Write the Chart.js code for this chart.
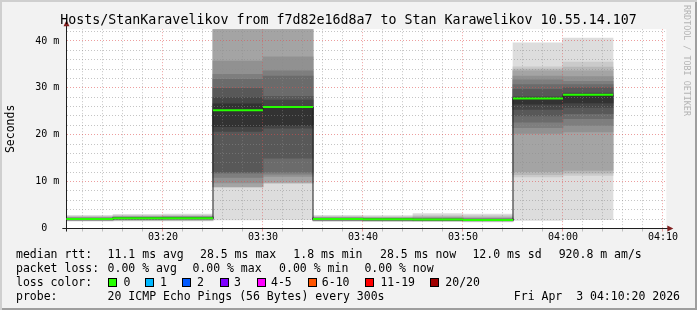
<!DOCTYPE html>
<html>
<head>
<meta charset="utf-8">
<title>smokeping</title>
<script src="https://cdn.jsdelivr.net/npm/chart.js@4.4.1/dist/chart.umd.min.js"></script>
<style>
  html, body { margin: 0; padding: 0; background: #f2f2f2; }
  #frame {
    position: relative; width: 697px; height: 310px; overflow: hidden;
    background: #f2f2f2;
    box-shadow: inset 2px 2px 0 #cfcfcf, inset -2px -2px 0 #9e9e9e;
    font-family: 'DejaVu Sans Mono', monospace; color: #000;
  }
  #frame canvas { position: absolute; left: 0; top: 0; }
  .txt { position: absolute; white-space: pre; font-size: 11.5px; line-height: 14px; }
  #title { position: absolute; left: 0; top: 12px; width: 697px; text-align: center; font-size: 13.3px; line-height: 16px; white-space: pre; }
  #brand { position: absolute; left: 682px; top: 5px; writing-mode: vertical-rl; font-size: 8.4px; line-height: 9px; color: #b4b4b4; white-space: pre; }
  .sw { position: absolute; top: 278px; width: 7px; height: 7px; border: 1px solid #000; }
</style>
</head>
<body>
<div id="frame">
  <canvas id="smoke" width="697" height="310"></canvas>
  <canvas id="median" width="697" height="310"></canvas>
  <div id="title">Hosts/StanKaravelikov from f7d82e16d8a7 to Stan Karawelikov 10.55.14.107</div>
  <div id="brand">RRDTOOL / TOBI OETIKER</div>

  <div class="txt" style="left:16px;top:247px">median rtt:</div>
  <div class="txt" style="left:107.6px;top:247px">11.1 ms avg</div>
  <div class="txt" style="left:200px;top:247px">28.5 ms max</div>
  <div class="txt" style="left:293.3px;top:247px">1.8 ms min</div>
  <div class="txt" style="left:380px;top:247px">28.5 ms now</div>
  <div class="txt" style="left:472.4px;top:247px">12.0 ms sd</div>
  <div class="txt" style="left:558.7px;top:247px">920.8 m am/s</div>

  <div class="txt" style="left:16px;top:261px">packet loss:</div>
  <div class="txt" style="left:107.6px;top:261px">0.00 % avg</div>
  <div class="txt" style="left:192.4px;top:261px">0.00 % max</div>
  <div class="txt" style="left:279.1px;top:261px">0.00 % min</div>
  <div class="txt" style="left:364.4px;top:261px">0.00 % now</div>

  <div class="txt" style="left:16px;top:275px">loss color:</div>
  <div class="sw" style="left:108px;background:#26ff00"></div>
  <div class="txt" style="left:123.6px;top:275px">0</div>
  <div class="sw" style="left:145px;background:#00b8ff"></div>
  <div class="txt" style="left:160px;top:275px">1</div>
  <div class="sw" style="left:182px;background:#0059ff"></div>
  <div class="txt" style="left:197px;top:275px">2</div>
  <div class="sw" style="left:220px;background:#7e00ff"></div>
  <div class="txt" style="left:234px;top:275px">3</div>
  <div class="sw" style="left:256.5px;background:#ff00ff"></div>
  <div class="txt" style="left:271px;top:275px">4-5</div>
  <div class="sw" style="left:307.5px;background:#ff5500"></div>
  <div class="txt" style="left:321.8px;top:275px">6-10</div>
  <div class="sw" style="left:365px;background:#ff0000"></div>
  <div class="txt" style="left:380.4px;top:275px">11-19</div>
  <div class="sw" style="left:430px;background:#a00000"></div>
  <div class="txt" style="left:445.3px;top:275px">20/20</div>

  <div class="txt" style="left:16px;top:289px">probe:</div>
  <div class="txt" style="left:107.6px;top:289px">20 ICMP Echo Pings (56 Bytes) every 300s</div>
  <div class="txt" style="right:17px;top:289px">Fri Apr  3 04:10:20 2026</div>
</div>

<script>
// end time of every 300 s step, the step is drawn over the 5 minutes before it
const stepEnds = ['03:15', '03:20', '03:25', '03:30', '03:35', '03:40', '03:45', '03:50', '03:55', '04:00', '04:05'];
const medianRtt = [2.0, 2.2, 2.2, 25.2, 25.9, 2.0, 1.95, 1.9, 1.8, 27.7, 28.5];

// the 20 ping times of each step, sorted (ms)
const pings0315 = [1.55, 1.65, 1.7, 1.75, 1.8, 1.85, 1.9, 1.95, 1.95, 2.0, 2.05, 2.05, 2.1, 2.15, 2.2, 2.3, 2.4, 2.5, 2.6, 2.8];
const pings0320 = [1.6, 1.7, 1.8, 1.85, 1.9, 1.95, 2.0, 2.05, 2.1, 2.15, 2.2, 2.25, 2.3, 2.35, 2.4, 2.5, 2.55, 2.65, 2.8, 3.0];
const pings0325 = [1.6, 1.7, 1.8, 1.85, 1.9, 2.0, 2.05, 2.1, 2.15, 2.2, 2.2, 2.25, 2.3, 2.4, 2.45, 2.5, 2.6, 2.7, 2.85, 3.1];
const pings0330 = [1.85, 8.8, 8.85, 8.9, 9.7, 10.9, 11.8, 12.0, 20.7, 21.7, 26.6, 27.9, 29.9, 31.8, 32.9, 35.7, 44, 45, 46, 47];
const pings0335 = [1.87, 9.6, 9.7, 9.8, 11.1, 11.6, 12.0, 15.0, 21.4, 22.0, 25.8, 27.4, 28.2, 32.5, 33.6, 36.6, 44, 45, 46, 47];
const pings0340 = [1.5, 1.6, 1.65, 1.7, 1.75, 1.8, 1.85, 1.9, 1.95, 2.0, 2.0, 2.05, 2.1, 2.15, 2.2, 2.25, 2.35, 2.45, 2.6, 2.8];
const pings0345 = [1.5, 1.55, 1.6, 1.65, 1.7, 1.75, 1.8, 1.85, 1.9, 1.95, 1.95, 2.0, 2.05, 2.1, 2.15, 2.2, 2.3, 2.4, 2.55, 2.75];
const pings0350 = [1.45, 1.55, 1.6, 1.65, 1.7, 1.75, 1.8, 1.85, 1.85, 1.9, 1.9, 1.95, 2.0, 2.05, 2.15, 2.25, 2.4, 2.6, 2.85, 3.2];
const pings0355 = [1.4, 1.5, 1.55, 1.6, 1.65, 1.7, 1.7, 1.75, 1.8, 1.8, 1.8, 1.85, 1.9, 1.95, 2.05, 2.15, 2.3, 2.5, 2.75, 3.1];
const pings0400 = [1.7, 11.0, 11.5, 12.1, 20.3, 21.5, 22.7, 24.0, 25.4, 26.5, 27.9, 28.1, 29.7, 30.7, 31.7, 32.5, 33.6, 34.0, 34.5, 39.6];
const pings0405 = [1.86, 11.3, 11.8, 12.4, 20.6, 22.0, 23.4, 24.5, 25.8, 26.8, 28.4, 28.9, 30.0, 30.7, 31.4, 32.4, 33.6, 34.4, 35.5, 40.6];

const viewStart = '03:10:20';
const viewEnd = '04:10:20';
const stepMin = 5;
const yMax = 42.5;

const W = 697, H = 310;
const plot = { left: 66.33, right: 666.33, top: 29.2, bottom: 228.5 };
const xAxisH = 20;
const minorGrid = 'rgba(140,140,140,0.5)';
const majorGrid = 'rgba(222,79,79,0.55)';
const axisColor = '#1f1f1f';
const arrowColor = '#801f1f';
const monoFont = 'DejaVu Sans Mono';

function toMin(t) {
    var p = t.split(':').map(Number);
    return (p[0] - 3) * 60 + p[1] + (p[2] || 0) / 60;
}
function hhmm(v) {
    var h = 3 + Math.floor(v / 60), m = Math.round(v % 60);
    return String(h).padStart(2, '0') + ':' + String(m).padStart(2, '0');
}
function gridValues(from, to, step) {
    var out = [];
    for (var v = from; v <= to + 1e-9; v += step) out.push({ value: v });
    return out;
}

const xMin = toMin(viewStart), xMax = toMin(viewEnd);
const pxPerMin = (plot.right - plot.left) / (xMax - xMin);

function makeScales(show) {
    var tickFont = { family: monoFont, size: 10 };
    var gridCol = function(c) { return c.tick && c.tick.value % 10 === 0 ? majorGrid : minorGrid; };
    return {
        x: {
            type: 'linear', position: 'bottom', min: xMin, max: xMax, offset: false,
            afterBuildTicks: function(s) { s.ticks = gridValues(Math.ceil(xMin / 2) * 2, xMax, 2); },
            afterFit: function(s) { s.height = xAxisH; },
            grid: { display: show, offset: false, z: 1, lineWidth: 1, color: gridCol,
                    drawTicks: true, tickLength: 3, tickColor: gridCol },
            border: { display: show, color: axisColor, z: 2, dash: [1, 2] },
            ticks: { display: show, autoSkip: false, maxRotation: 0, padding: 0, color: '#000', font: tickFont,
                     callback: function(v) { return v % 10 === 0 ? hhmm(v) : ''; } }
        },
        y: {
            type: 'linear', position: 'left', min: 0, max: yMax,
            afterBuildTicks: function(s) { s.ticks = gridValues(0, yMax, 2); },
            afterFit: function(s) { s.width = plot.left; },
            grid: { display: show, z: 1, lineWidth: 1, drawTicks: false, color: gridCol },
            border: { display: show, color: axisColor, z: 2, dash: [1, 2] },
            ticks: { display: show, autoSkip: false, padding: 7, color: '#000', font: tickFont,
                     callback: function(v) { return v === 0 ? '0  ' : (v % 10 === 0 ? v + ' m' : ''); } },
            title: { display: show, text: 'Seconds', color: '#000', font: { family: monoFont, size: 11.5 },
                     padding: { top: 4, bottom: 0 } }
        }
    };
}

const layoutPad = { left: 0, top: plot.top, right: W - plot.right, bottom: H - plot.bottom - xAxisH };

// smoke: band j spans ping j .. ping 19-j, darker towards the middle
const pingSets = [pings0315, pings0320, pings0325, pings0330, pings0335, pings0340,
                  pings0345, pings0350, pings0355, pings0400, pings0405];
const smokeSets = [];
for (let j = 0; j < 10; j++) {
    const g = Math.floor(190 / 10 * (10 - (j + 1))) + 50;
    smokeSets.push({
        type: 'bar',
        data: pingSets.map(function(p, k) {
            return { x: toMin(stepEnds[k]) - stepMin / 2, y: [p[j], p[19 - j]] };
        }),
        backgroundColor: 'rgb(' + g + ',' + g + ',' + g + ')',
        borderWidth: 0,
        barThickness: stepMin * pxPerMin,
        grouped: false,
        order: 100 - j
    });
}

const plotBg = {
    id: 'plotBg',
    beforeDraw: function(chart) {
        var a = chart.chartArea, ctx = chart.ctx;
        ctx.save();
        ctx.fillStyle = '#ffffff';
        ctx.fillRect(a.left, a.top, a.right - a.left, a.bottom - a.top);
        ctx.restore();
    }
};

const axisArrows = {
    id: 'axisArrows',
    afterDraw: function(chart) {
        var a = chart.chartArea, ctx = chart.ctx;
        var ax = Math.round(a.left - 0.5) + 0.5;
        var ay = Math.round(a.bottom - 0.5) + 0.5;
        ctx.save();
        ctx.strokeStyle = axisColor;
        ctx.lineWidth = 1;
        ctx.beginPath();
        ctx.moveTo(ax, a.bottom + 3); ctx.lineTo(ax, a.top - 4);
        ctx.moveTo(a.left - 4, ay); ctx.lineTo(a.right + 2, ay);
        ctx.stroke();
        ctx.fillStyle = arrowColor;
        ctx.beginPath();
        ctx.moveTo(ax - 3, a.top - 3); ctx.lineTo(ax + 3, a.top - 3); ctx.lineTo(ax, a.top - 9);
        ctx.closePath(); ctx.fill();
        ctx.beginPath();
        ctx.moveTo(a.right + 1, ay - 3); ctx.lineTo(a.right + 1, ay + 3); ctx.lineTo(a.right + 7, ay);
        ctx.closePath(); ctx.fill();
        ctx.restore();
    }
};

new Chart(document.getElementById('smoke'), {
    type: 'bar',
    data: { datasets: smokeSets },
    options: {
        responsive: false, animation: false, events: [],
        layout: { padding: layoutPad },
        plugins: { legend: { display: false }, tooltip: { enabled: false } },
        scales: makeScales(true)
    },
    plugins: [plotBg, axisArrows]
});

// median: thin dark step line with the loss coloured bar on each step
const darkPts = stepEnds.map(function(t, k) { return { x: toMin(t) - stepMin, y: medianRtt[k] }; });
darkPts.push({ x: toMin(stepEnds[stepEnds.length - 1]), y: medianRtt[medianRtt.length - 1] });
const greenPts = [];
stepEnds.forEach(function(t, k) {
    var end = toMin(t);
    greenPts.push({ x: end - stepMin, y: medianRtt[k] }, { x: end, y: medianRtt[k] }, { x: end, y: null });
});

new Chart(document.getElementById('median'), {
    type: 'line',
    data: {
        datasets: [
            { data: greenPts, borderColor: '#26ff00', borderWidth: 2, pointRadius: 0, spanGaps: false, order: 0 },
            { data: darkPts, borderColor: '#202020', borderWidth: 1, pointRadius: 0, stepped: 'before', order: 1 }
        ]
    },
    options: {
        responsive: false, animation: false, events: [],
        layout: { padding: layoutPad },
        plugins: { legend: { display: false }, tooltip: { enabled: false } },
        scales: makeScales(false)
    }
});
</script>
</body>
</html>
